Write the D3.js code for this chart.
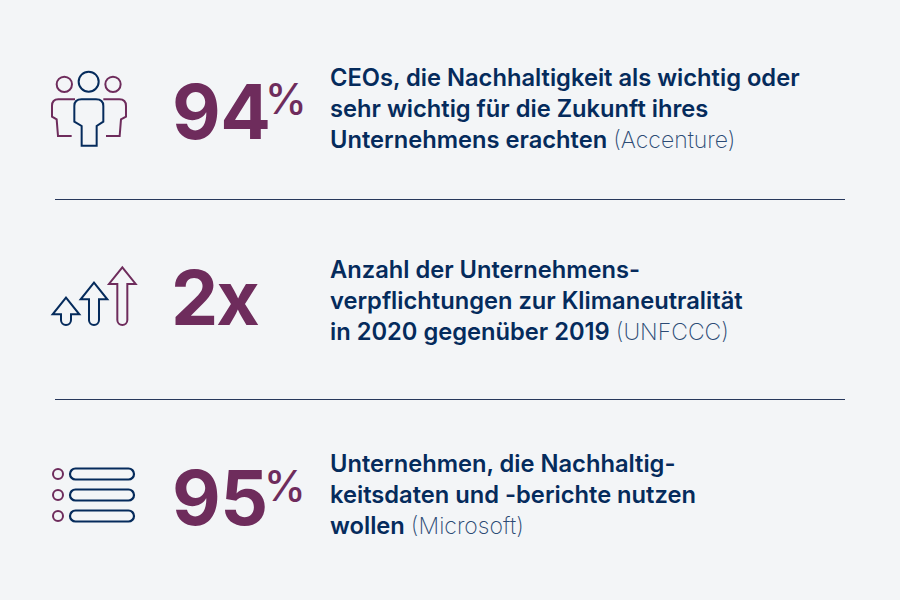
<!DOCTYPE html>
<html><head><meta charset="utf-8">
<script src="https://cdn.jsdelivr.net/npm/d3@7"></script>
<style>html,body{margin:0;padding:0;background:#f3f5f7}svg{display:block}text{font-family:Inter,sans-serif}</style>
</head><body><svg id="c" width="900" height="600"></svg>
<script>
const stats=["94","2x","95"];
const suffixes=["%","","%"];
const lines=[["CEOs, die Nachhaltigkeit als wichtig oder","sehr wichtig für die Zukunft ihres","Unternehmens erachten"],
["Anzahl der Unternehmens-","verpflichtungen zur Klimaneutralität","in 2020 gegenüber 2019"],
["Unternehmen, die Nachhaltig-","keitsdaten und -berichte nutzen","wollen"]];
const sources=["(Accenture)","(UNFCCC)","(Microsoft)"];
const navy="#052b5c",plum="#6e2c5c";
const svg=d3.select("#c");
svg.append("rect").attr("width",900).attr("height",600).attr("fill","#f3f5f7");
const statBase=[139,325,525],pctBase=[114,0,501],textBase=[86,277.5,472];
stats.forEach((s,i)=>{
 svg.append("text").attr("x",i==1?171:172).attr("y",statBase[i]).attr("fill",plum).attr("font-size",75).attr("font-weight",650).attr("letter-spacing",i==1?-2:-.5).text(s);
 if(suffixes[i]) svg.append("text").attr("x",i==0?265:264).attr("y",pctBase[i]).attr("fill",plum).attr("font-size",42).attr("font-weight",500).text(suffixes[i]);
 lines[i].forEach((l,j)=>{
  const tx=svg.append("text").attr("x",330).attr("y",textBase[i]+j*31.2).attr("fill",navy).attr("font-size",23.7).attr("font-weight",600).text(l);
  if(j==2) tx.append("tspan").attr("font-weight",200).attr("font-size",23).attr("fill","#2b4a74").attr("dx",6).text(sources[i]);
 });
});
[199.5,399.5].forEach(y=>svg.append("line").attr("x1",55).attr("x2",845).attr("y1",y).attr("y2",y).attr("stroke","#27385c").attr("stroke-width",1));
const ic=svg.append("g").attr("fill","none").attr("stroke-width",2);
const g1=ic.append("g").attr("transform","translate(40,60) scale(.3333)").attr("stroke-width",6);
[[73,73,23,plum],[219,73,23,plum],[146,65,30,navy]].forEach(c=>g1.append("circle").attr("cx",c[0]).attr("cy",c[1]).attr("r",c[2]).attr("stroke",c[3]));
g1.append("path").attr("stroke",plum).attr("d","M105 118H55Q36 118 36 138V170L50 178L54 228H95");
g1.append("path").attr("stroke",plum).attr("d","M190 118H238Q258 118 258 138V170L243 178L239 228H198");
g1.append("path").attr("stroke",navy).attr("d","M125 118H168Q190 118 190 138V185L170 198V257H125V198L103 185V138Q103 118 125 118Z");
const g2=ic.append("g").attr("transform","translate(40,255) scale(.3333)").attr("stroke-width",6);
const arrow=(x,tip,c)=>g2.append("path").attr("stroke",c).attr("d",`M${x-15} ${tip+50}H${x-40}L${x} ${tip}L${x+40} ${tip+50}H${x+15}V195A15 15 0 0 1 ${x-15} 195Z`);
arrow(78,128,navy);arrow(162,83,navy);arrow(247,37,plum);
[474,495,516].forEach(y=>{
 ic.append("circle").attr("cx",58).attr("cy",y).attr("r",5).attr("stroke",plum);
 ic.append("rect").attr("x",70).attr("y",y-5.5).attr("width",64).attr("height",11).attr("rx",5.5).attr("stroke",navy).attr("stroke-width",2.2);
});
</script></body></html>
